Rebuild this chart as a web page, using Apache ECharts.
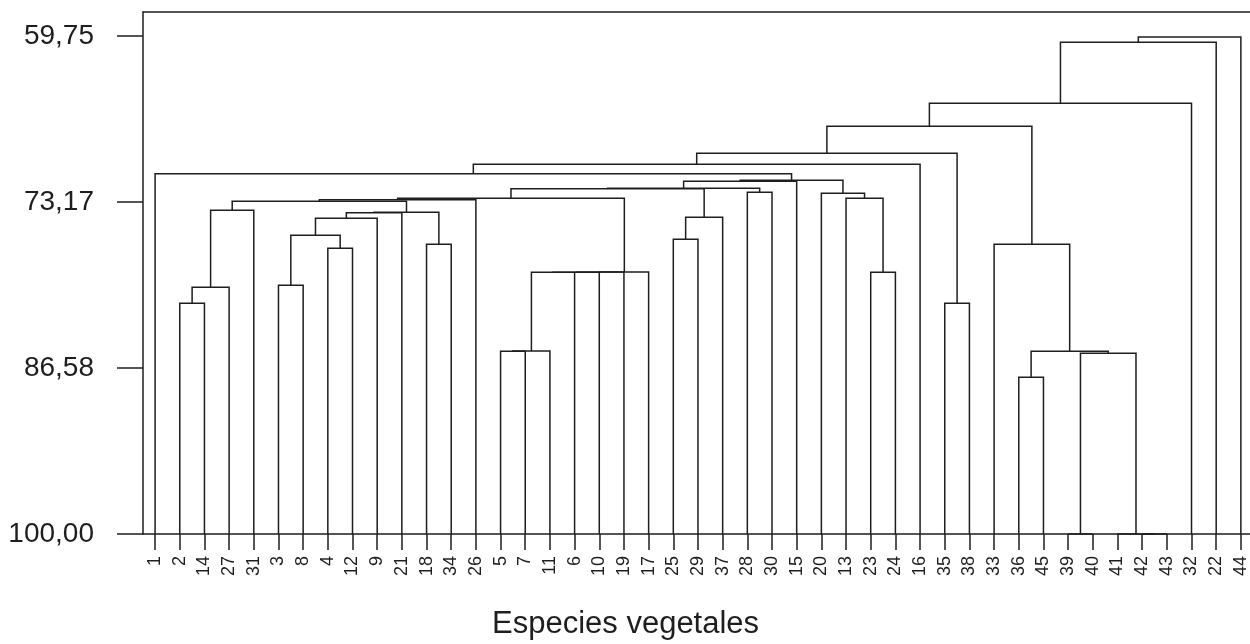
<!DOCTYPE html>
<html>
<head>
<meta charset="utf-8">
<script src="https://cdn.jsdelivr.net/npm/echarts@6/dist/echarts.min.js"></script>
<style>html,body{margin:0;padding:0;background:#fff}#c{width:1250px;height:644px}</style>
</head>
<body>
<div id="c"></div>
<script>
// Leaf order along the x axis
const leafLabels = ['1','2','14','27','31','3','8','4','12','9','21','18','34','26','5','7','11','6','10','19','17','25','29','37','28','30','15','20','13','23','24','16','35','38','33','36','45','39','40','41','42','43','32','22','44'];
// Y axis tick values (similarity)
const yTickValues = [59.75, 73.17, 86.58, 100];
// Merges: id, left child, right child, similarity level
const mergeIds   = ['A','B','C','D','E','F','G','H','I1','I2','J1','J2','L0','L1','K1','K2','K3','K4','J3','M1','M2','N','J4','J5','Q1','Q2','Q3','P1','P2','R1','R2','S','R3','T1','U1','U2','U3','U4','T2','T3','V1','V2','V3','V4'];
const mergeLeft  = ['2','A','B','3','4','D','F','18','G','I1','C','J1','5','L0','L1','K1','K2','K3','J2','25','M1','28','J3','J4','23','13','20','J5','P1','1','R1','35','R2','36','39','42','41','U1','T1','33','R3','V1','V2','V3'];
const mergeRight = ['14','27','31','8','12','E','9','34','21','H','I2','26','7','11','6','10','19','17','K4','29','37','30','M2','N','24','Q1','Q2','15','Q3','P2','16','38','S','45','40','43','U2','U3','U4','T2','T3','32','22','44'];
const mergeLevel = [81.34,80.05,73.82,79.89,76.90,75.84,74.47,76.57,74.02,73.98,73.09,72.97,85.22,85.20,78.84,78.83,78.82,78.81,72.85,76.17,74.39,72.37,72.08,72.04,78.84,72.85,72.45,71.48,71.40,70.87,70.10,81.34,69.21,87.33,100,100,100,85.39,85.22,76.57,67.03,65.17,60.24,59.83];

// Dendrogram layout: each node sits midway between its two children
const pos = {}, lvl = {};
leafLabels.forEach((l, i) => { pos[l] = i; lvl[l] = 100; });
mergeIds.forEach((id, k) => {
  pos[id] = (pos[mergeLeft[k]] + pos[mergeRight[k]]) / 2;
  lvl[id] = mergeLevel[k];
});

const FONT = 'Liberation Sans, Arial, Helvetica, sans-serif';
const INK = '#1e1e1e';
const LW = 1.5;
const leafIdx = leafLabels.map((_, i) => i);

const chart = echarts.init(document.getElementById('c'), null, {renderer: 'canvas'});
chart.setOption({
  animation: false,
  backgroundColor: '#fff',
  title: {
    text: 'Especies vegetales',
    left: 487, top: 604,
    textStyle: {fontFamily: FONT, fontSize: 31, fontWeight: 'normal', color: INK}
  },
  grid: {left: 143, right: 0, top: 12, bottom: 110},
  xAxis: [{
    type: 'value', min: -0.49, max: 44.37, position: 'bottom',
    axisLine: {show: true, onZero: false, lineStyle: {color: INK, width: LW}},
    axisTick: {show: true, customValues: leafIdx, length: 16, lineStyle: {color: INK, width: LW}},
    axisLabel: {show: true, customValues: leafIdx, rotate: 90, margin: 22,
      fontFamily: FONT, fontSize: 18, color: INK,
      formatter: v => leafLabels[Math.round(v)]},
    splitLine: {show: false}
  }, {
    type: 'value', min: -0.49, max: 44.37, position: 'top',
    axisLine: {show: true, onZero: false, lineStyle: {color: INK, width: LW}},
    axisTick: {show: false}, axisLabel: {show: false}, splitLine: {show: false}
  }],
  yAxis: {
    type: 'value', inverse: true, min: 57.8, max: 100,
    axisLine: {show: true, onZero: false, lineStyle: {color: INK, width: LW}},
    axisTick: {show: true, customValues: yTickValues, length: 26, lineStyle: {color: INK, width: LW}},
    axisLabel: {show: true, customValues: yTickValues, margin: 49,
      fontFamily: FONT, fontSize: 28, color: INK,
      formatter: v => v.toFixed(2).replace('.', ',')},
    splitLine: {show: false}
  },
  series: [{
    type: 'custom',
    coordinateSystem: 'cartesian2d',
    xAxisIndex: 0, yAxisIndex: 0,
    clip: false,
    data: mergeIds.map((id, k) => [pos[id], mergeLevel[k], k]),
    renderItem: function (params, api) {
      const k = api.value(2);
      const a = mergeLeft[k], b = mergeRight[k], h = mergeLevel[k];
      const pts = [
        api.coord([pos[a], lvl[a]]),
        api.coord([pos[a], h]),
        api.coord([pos[b], h]),
        api.coord([pos[b], lvl[b]])
      ];
      return {type: 'polyline', shape: {points: pts},
        style: {stroke: INK, lineWidth: LW, fill: null}};
    }
  }]
});
</script>
</body>
</html>
